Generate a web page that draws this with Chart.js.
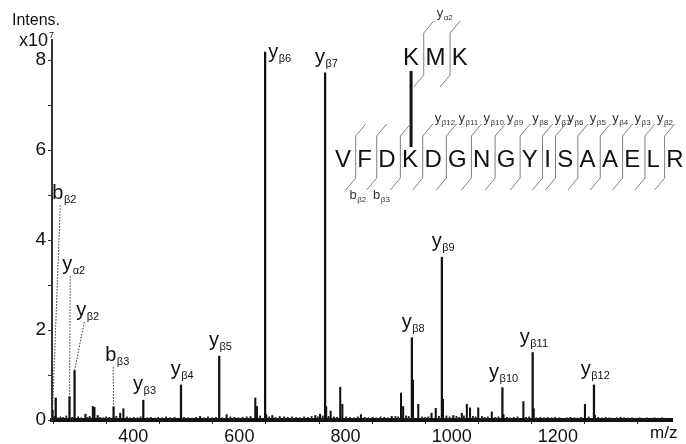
<!DOCTYPE html>
<html lang="en">
<head>
<meta charset="UTF-8" />
<title>MS/MS spectrum</title>
<script src="https://cdn.jsdelivr.net/npm/chart.js"></script>
<style>
  html, body { margin: 0; padding: 0; background: #fff; }
  #box { width: 686px; height: 444px; }
</style>
</head>
<body>
<div id="box"><canvas id="spectrum" width="686" height="444"></canvas></div>
<script>
// assigned / main peaks, intensity in units of 10^7
const peakMz = [248, 254, 280, 289.5, 363, 419, 490, 562, 648.5, 761.5, 925, 981.5, 1095.5, 1152.5, 1268];
const peakInt = [0.22, 0.49, 0.52, 1.1, 0.29, 0.44, 0.78, 1.42, 8.18, 7.72, 1.83, 3.62, 0.72, 1.5, 0.78];

// smaller unassigned peaks
const minorMz = [310, 324, 327, 333, 375.5, 381.5, 526, 576, 630, 633, 650.5, 662, 743, 752, 763.5, 772, 790, 794, 829, 887,
  904.5, 908.5, 927, 937, 962, 970, 983.5, 1003, 1019, 1028.5, 1034.5, 1050, 1075.5, 1097.5, 1135, 1154.5, 1251, 1270];
const minorInt = [0.13, 0.3, 0.28, 0.1, 0.15, 0.25, 0.08, 0.12, 0.49, 0.3, 0.12, 0.1, 0.1, 0.13, 0.3, 0.2, 0.73, 0.35, 0.12, 0.08,
  0.6, 0.3, 0.89, 0.35, 0.15, 0.26, 0.46, 0.1, 0.15, 0.35, 0.27, 0.27, 0.18, 0.12, 0.41, 0.25, 0.35, 0.1];

// baseline noise
const noiseMz = [251, 258, 263, 268, 274, 285, 296, 302, 314, 318,
  338, 344, 349, 355, 368, 388, 394, 401, 408, 414,
  426, 433, 441, 447, 455, 462, 470, 478, 496, 503,
  511, 518, 533, 541, 549, 556, 568, 583, 591, 598,
  606, 614, 621, 639, 656, 668, 676, 684, 691, 699,
  707, 714, 722, 729, 736, 748, 757, 768, 778, 784,
  801, 808, 816, 823, 836, 843, 851, 858, 866, 873,
  880, 894, 899, 914, 919, 944, 950, 956, 976, 990,
  996, 1009, 1014, 1023, 1040, 1045, 1057, 1062, 1068, 1082,
  1088, 1104, 1110, 1117, 1124, 1140, 1146, 1160, 1167, 1174,
  1181, 1188, 1195, 1203, 1210, 1217, 1224, 1231, 1238, 1244,
  1258, 1276, 1283, 1290, 1297, 1304, 1311, 1318, 1325, 1332,
  1340, 1347, 1354, 1361, 1368, 1375, 1382, 1389, 1396, 1403];
const noiseInt = [0.08, 0.05, 0.07, 0.06, 0.09, 0.06, 0.07, 0.05, 0.06, 0.08,
  0.06, 0.05, 0.07, 0.06, 0.08, 0.07, 0.05, 0.06, 0.05, 0.07,
  0.05, 0.06, 0.04, 0.06, 0.05, 0.07, 0.05, 0.06, 0.06, 0.05,
  0.04, 0.06, 0.05, 0.07, 0.05, 0.06, 0.05, 0.07, 0.06, 0.05,
  0.06, 0.07, 0.08, 0.09, 0.07, 0.06, 0.08, 0.07, 0.06, 0.07,
  0.06, 0.05, 0.07, 0.06, 0.08, 0.07, 0.09, 0.08, 0.07, 0.06,
  0.07, 0.06, 0.05, 0.07, 0.06, 0.05, 0.06, 0.05, 0.07, 0.06,
  0.05, 0.08, 0.07, 0.09, 0.08, 0.07, 0.06, 0.07, 0.08, 0.09,
  0.07, 0.08, 0.06, 0.09, 0.08, 0.07, 0.08, 0.06, 0.07, 0.06,
  0.07, 0.06, 0.05, 0.06, 0.07, 0.06, 0.07, 0.05, 0.06, 0.05,
  0.06, 0.05, 0.06, 0.05, 0.04, 0.05, 0.06, 0.05, 0.04, 0.06,
  0.07, 0.06, 0.05, 0.06, 0.05, 0.04, 0.05, 0.06, 0.05, 0.04,
  0.05, 0.04, 0.05, 0.04, 0.05, 0.04, 0.05, 0.04, 0.05, 0.04];

// fragment ion assignments
const ionType = ['b', 'y', 'y', 'b', 'y', 'y', 'y', 'y', 'y', 'y', 'y', 'y', 'y', 'y'];
const ionSub = ['β2', 'α2', 'β2', 'β3', 'β3', 'β4', 'β5', 'β6', 'β7', 'β8', 'β9', 'β10', 'β11', 'β12'];
const ionMz = [248, 280, 289.5, 363, 419, 490, 562, 648.5, 761.5, 925, 981.5, 1095.5, 1152.5, 1268];

// axis ticks
const yTicks = [0, 1, 2, 3, 4, 5, 6, 7, 8];
const xTicks = [300, 400, 500, 600, 700, 800, 900, 1000, 1100, 1200, 1300, 1400];

// cross-linked peptides
const alphaSeq = 'KMK';
const betaSeq = 'VFDKDGNGYISAAELR';

const FONT = '"Liberation Sans", Arial, Helvetica, sans-serif';

// labels of the crowded low-mass ions sit higher and point to their peak with a dotted line
const leaders = {
  'bβ2': [247.5, 4.91],
  'yα2': [266.3, 3.33],
  'yβ2': [292.7, 2.31],
  'bβ3': [347.3, 1.31]
};

const toPoints = (xs, ys) => xs.map((x, i) => ({ x: x, y: ys[i] }));

function ionText(ctx, x, y, main, sub, size, subSize, align) {
  ctx.font = size + 'px ' + FONT;
  const w1 = ctx.measureText(main).width;
  ctx.font = subSize + 'px ' + FONT;
  const w2 = ctx.measureText(sub).width;
  let left = x;
  if (align === 'center') left = x - (w1 + w2) / 2;
  if (align === 'right') left = x - w1 - w2;
  ctx.textAlign = 'left';
  ctx.textBaseline = 'alphabetic';
  ctx.font = size + 'px ' + FONT;
  ctx.fillText(main, left, y);
  ctx.font = subSize + 'px ' + FONT;
  ctx.fillText(sub, left + w1 + 0.5, y + size * 0.2);
}

const ionLabels = {
  id: 'ionLabels',
  afterDatasetsDraw(chart) {
    const ctx = chart.ctx;
    const xs = chart.scales.x, ys = chart.scales.y;
    ctx.save();
    ctx.fillStyle = '#111';
    ionMz.forEach((mz, i) => {
      const h = peakInt[peakMz.indexOf(mz)];
      const px = xs.getPixelForValue(mz);
      const top = ys.getPixelForValue(h);
      const key = ionType[i] + ionSub[i];
      const lead = i < 4 ? leaders[key] : null;
      if (lead) {
        const lx = xs.getPixelForValue(lead[0]);
        const ly = ys.getPixelForValue(lead[1]);
        ionText(ctx, lx, ly, ionType[i], ionSub[i], 20, 11, 'left');
        ctx.strokeStyle = '#333';
        ctx.lineWidth = 1;
        ctx.setLineDash([1.5, 1.5]);
        ctx.beginPath();
        ctx.moveTo(lx + 8, ly + 6);
        ctx.lineTo(px, top);
        ctx.stroke();
        ctx.setLineDash([]);
      } else if (key === 'yβ6') {
        // too tall to label above, so the label sits beside the peak top
        ionText(ctx, px + 3, top + 5.5, ionType[i], ionSub[i], 20, 11, 'left');
      } else {
        ionText(ctx, px + 1, top - 10, ionType[i], ionSub[i], 20, 11, 'center');
      }
    });
    ctx.restore();
  }
};

// axis captions
const captions = {
  id: 'captions',
  afterDraw(chart) {
    const ctx = chart.ctx;
    ctx.save();
    ctx.fillStyle = '#111';
    ctx.textAlign = 'left';
    ctx.textBaseline = 'alphabetic';
    ctx.font = '16px ' + FONT;
    ctx.fillText('Intens.', 12, 25);
    ctx.font = '18px ' + FONT;
    ctx.fillText('x10', 19, 46);
    ctx.font = '9px ' + FONT;
    ctx.fillText('7', 49, 38);
    ctx.font = '17px ' + FONT;
    ctx.fillText('m/z', 650, 438);
    ctx.restore();
  }
};

// sequence scheme of the cross-linked peptides with cleavage sites
function bracket(ctx, x, top) {
  ctx.beginPath();
  ctx.moveTo(x + 10, top - 12);
  ctx.lineTo(x, top);
  ctx.lineTo(x, top + 42);
  ctx.lineTo(x - 10, top + 54);
  ctx.stroke();
}

function layoutSeq(ctx, seq, left, gap) {
  const centers = [], cuts = [];
  let x = left;
  for (let i = 0; i < seq.length; i++) {
    const w = ctx.measureText(seq[i]).width;
    centers.push(x + w / 2);
    x += w;
    if (i < seq.length - 1) cuts.push(x + gap / 2 + 1.5);
    x += gap;
  }
  return { centers, cuts };
}

const scheme = {
  id: 'scheme',
  afterDraw(chart) {
    const ctx = chart.ctx;
    ctx.save();
    ctx.font = '24px ' + FONT;
    const beta = layoutSeq(ctx, betaSeq, 335, 6.35);
    const kIndex = 3;
    const alphaLeft = beta.centers[kIndex] - ctx.measureText('K').width / 2 + 1;
    const alpha = layoutSeq(ctx, alphaSeq, alphaLeft, 6.35);

    ctx.fillStyle = '#111';
    ctx.textAlign = 'center';
    ctx.textBaseline = 'alphabetic';
    betaSeq.split('').forEach((c, i) => ctx.fillText(c, beta.centers[i], 167));
    alphaSeq.split('').forEach((c, i) => ctx.fillText(c, alpha.centers[i], 65));

    // cross-link between the two lysines
    ctx.strokeStyle = '#111';
    ctx.lineWidth = 3;
    ctx.beginPath();
    ctx.moveTo(alpha.centers[0], 71);
    ctx.lineTo(alpha.centers[0], 147);
    ctx.stroke();

    ctx.strokeStyle = '#808080';
    ctx.lineWidth = 1;
    beta.cuts.forEach(x => bracket(ctx, x, 136));
    alpha.cuts.forEach(x => bracket(ctx, x, 33));

    ctx.fillStyle = '#333';
    beta.cuts.forEach((x, i) => {
      const n = betaSeq.length - i - 1;
      if (n >= 2 && n <= 12) ionText(ctx, x + 12, 122, 'y', 'β' + n, 13, 8, 'left');
      const b = i + 1;
      if (b === 2 || b === 3) ionText(ctx, x - 11, 199, 'b', 'β' + b, 13, 8, 'right');
    });
    ionText(ctx, alpha.cuts[0] + 13, 17, 'y', 'α2', 13, 8, 'left');
    ctx.restore();
  }
};

new Chart(document.getElementById('spectrum'), {
  type: 'bar',
  data: {
    datasets: [
      { data: toPoints(noiseMz, noiseInt), backgroundColor: '#222', barThickness: 1.2, grouped: false },
      { data: toPoints(minorMz, minorInt), backgroundColor: '#111', barThickness: 1.4, grouped: false },
      { data: toPoints(peakMz, peakInt), backgroundColor: '#111', barThickness: 1.6, grouped: false }
    ]
  },
  options: {
    responsive: false,
    animation: false,
    layout: { padding: { top: 40, right: 14, left: 0, bottom: 0 } },
    plugins: { legend: { display: false }, tooltip: { enabled: false } },
    scales: {
      x: {
        type: 'linear',
        offset: false,
        min: 247,
        max: 1415,
        afterFit: s => { s.height = 24; },
        afterBuildTicks: s => { s.ticks = xTicks.map(v => ({ value: v })); },
        grid: { drawOnChartArea: false, drawTicks: true, tickLength: 4, color: '#222' },
        border: { display: true, color: '#111', width: 4 },
        ticks: {
          autoSkip: false,
          maxRotation: 0,
          padding: 2,
          color: '#111',
          font: { family: FONT, size: 18 },
          callback: v => (v % 200 === 0 && v < 1400 ? String(v) : '')
        }
      },
      y: {
        min: 0,
        max: 8.45,
        afterFit: s => { s.width = 52; },
        afterBuildTicks: s => { s.ticks = yTicks.map(v => ({ value: v })); },
        grid: { drawOnChartArea: false, drawTicks: true, tickLength: 4, color: '#333' },
        border: { display: true, color: '#333', width: 2 },
        ticks: {
          autoSkip: false,
          padding: 2,
          color: '#111',
          font: { family: FONT, size: 19 },
          callback: v => (v % 2 === 0 ? String(v) : '')
        }
      }
    }
  },
  plugins: [ionLabels, captions, scheme]
});
</script>
</body>
</html>
